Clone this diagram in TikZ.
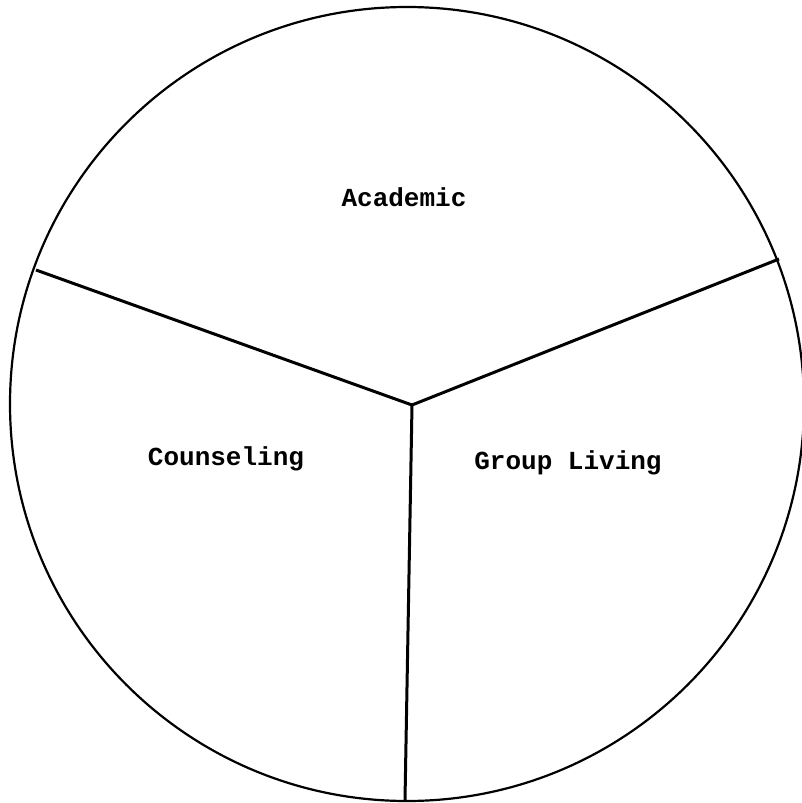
\documentclass[tikz,border=0pt]{standalone}
\usepackage{fontspec}
\setmonofont{Liberation Mono}
\begin{document}
\begin{tikzpicture}[x=1pt,y=-1pt,
  rim/.style={line width=2.2pt},
  divider/.style={line width=3pt},
  lab/.style={font=\ttfamily\bfseries\fontsize{26}{30}\selectfont, inner sep=0pt}]
\useasboundingbox (0,0) rectangle (802,803);
\node[circle, draw, rim, minimum size=794pt, inner sep=0pt] (circ) at (407,404) {};
\coordinate (c) at (412,405);
\coordinate (l) at (36,270);
\coordinate (r) at (779,259);
\coordinate (b) at (405,800);
\draw[divider] (c) -- (l);
\draw[divider] (c) -- (r);
\draw[divider] (c) -- (b);
\node[lab] (acad) at (404,197) {Academic};
\node[lab] (coun) at (226,459) {Counseling};
\node[lab] (group) at (568,463) {Group Living};
\end{tikzpicture}
\end{document}
